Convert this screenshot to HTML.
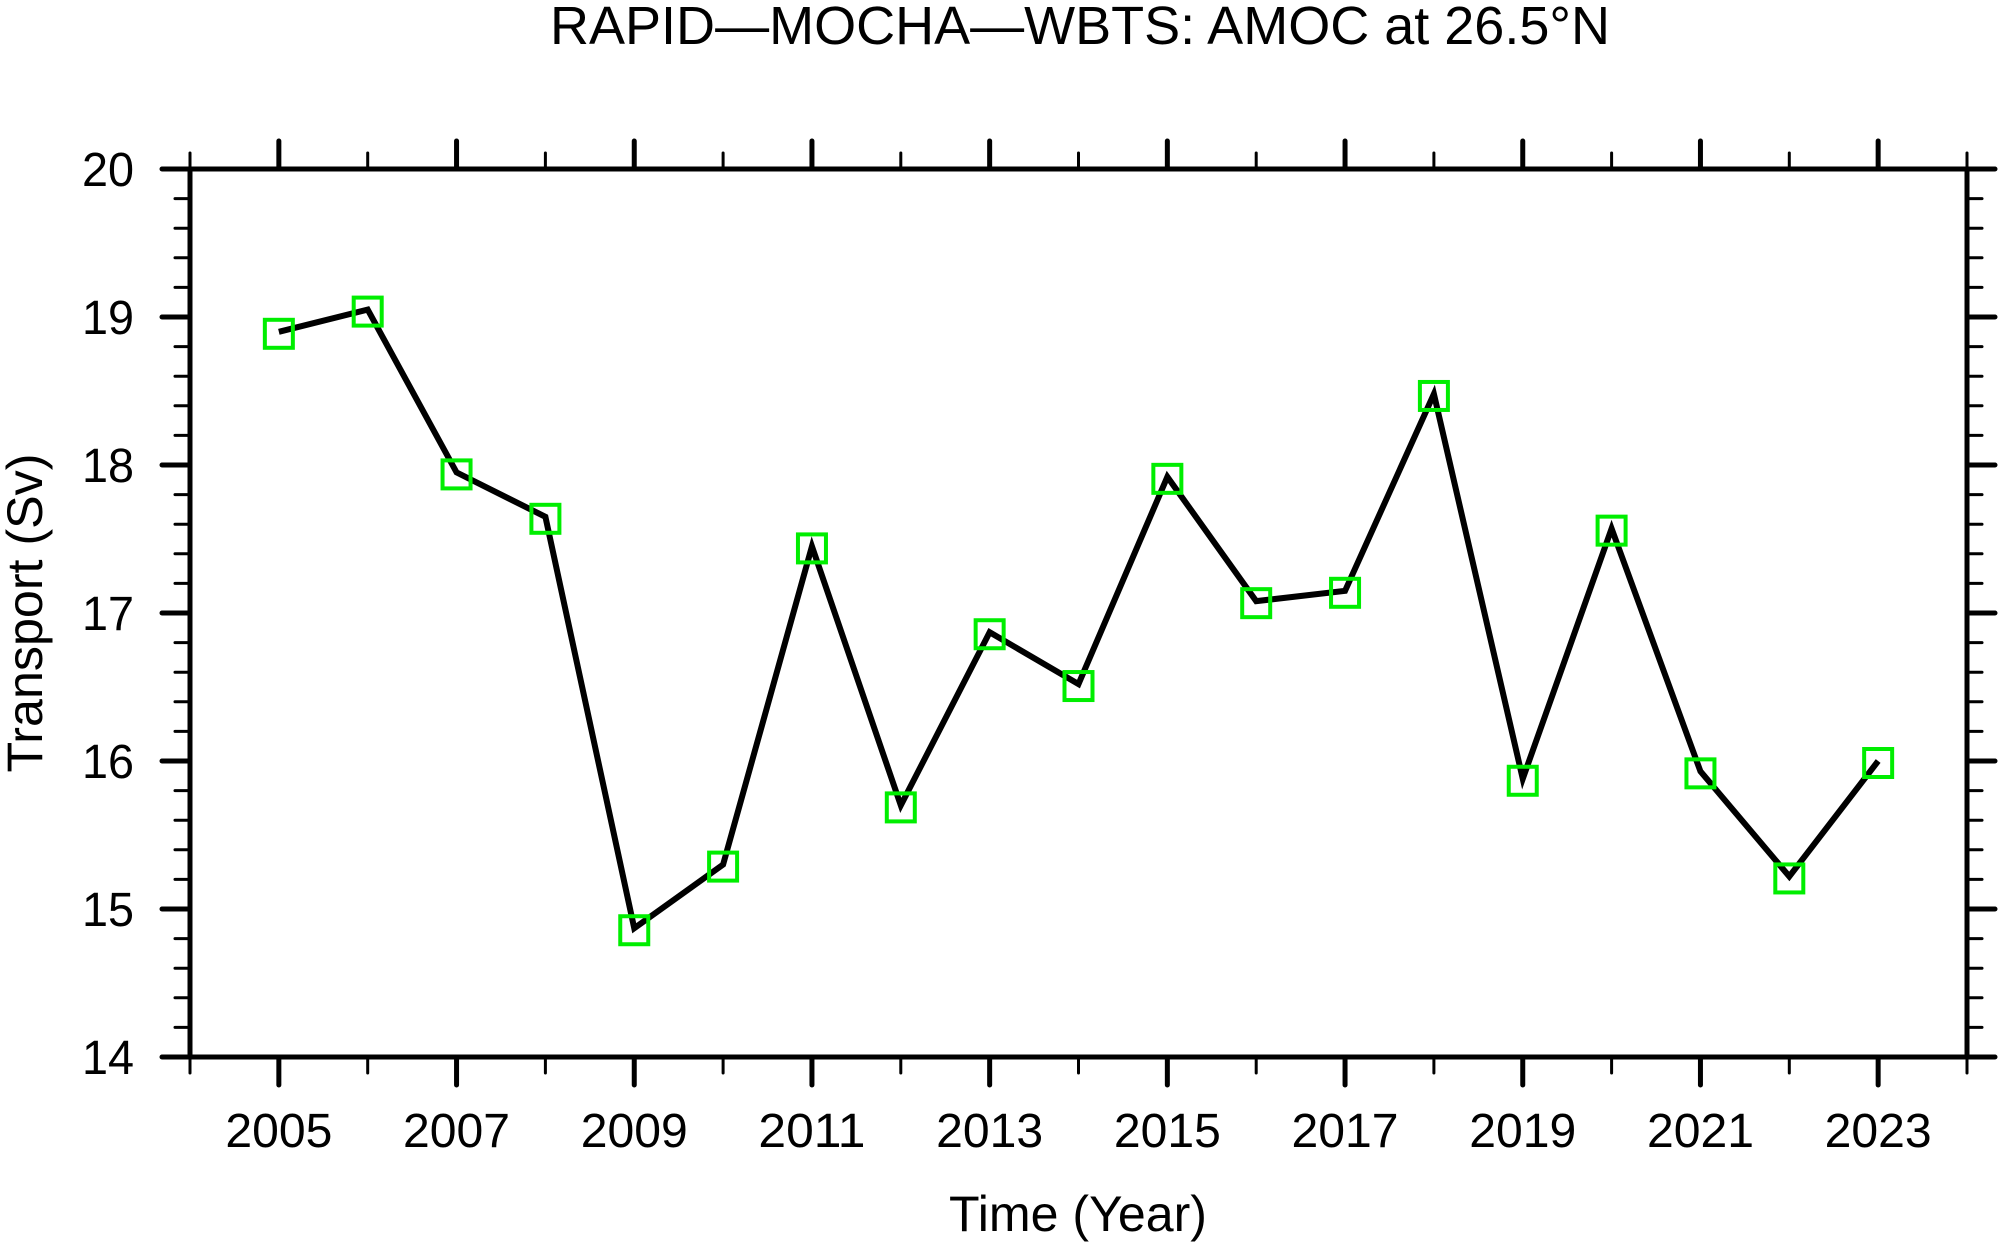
<!DOCTYPE html>
<html><head><meta charset="utf-8"><style>html,body{margin:0;padding:0;background:#fff}svg{display:block}</style></head>
<body>
<svg id="s" width="2000" height="1244" xmlns="http://www.w3.org/2000/svg" font-family="Liberation Sans, sans-serif"></svg>
<script>
const s=document.getElementById('s');
const L=190,R=1967,T=169,B=1057;
const X=y=>L+(y-2004)*(R-L)/20, Y=v=>B-(v-14)*(B-T)/6;
let h='';
h+=`<text x="1080" y="44" font-size="54" text-anchor="middle" textLength="1060" lengthAdjust="spacingAndGlyphs">RAPID\u2014MOCHA\u2014WBTS: AMOC at 26.5°N</text>`;
for(let yr=2004;yr<=2024;yr++){const x=X(yr);const maj=(yr%2==1);
h+=`<line x1="${x}" y1="${B}" x2="${x}" y2="${B+(maj?28:16)}" stroke="#000" stroke-width="${maj?5:3}" stroke-linecap="round"/>`;
h+=`<line x1="${x}" y1="${T}" x2="${x}" y2="${T-(maj?28:16)}" stroke="#000" stroke-width="${maj?5:3}" stroke-linecap="round"/>`;
if(maj&&yr>=2005&&yr<=2023)h+=`<text x="${x}" y="1147" font-size="48" text-anchor="middle" textLength="107" lengthAdjust="spacingAndGlyphs">${yr}</text>`;}
for(let i=0;i<=30;i++){const v=14+i*0.2;const y=Y(v);const maj=(i%5==0);
h+=`<line x1="${L}" y1="${y}" x2="${L-(maj?28:15)}" y2="${y}" stroke="#000" stroke-width="${maj?5:3}" stroke-linecap="round"/>`;
h+=`<line x1="${R}" y1="${y}" x2="${R+(maj?28:15)}" y2="${y}" stroke="#000" stroke-width="${maj?5:3}" stroke-linecap="round"/>`;
if(maj)h+=`<text x="134" y="${y+17}" font-size="48" text-anchor="end" textLength="52" lengthAdjust="spacingAndGlyphs">${Math.round(v)}</text>`;}
h+=`<rect x="${L}" y="${T}" width="${R-L}" height="${B-T}" fill="none" stroke="#000" stroke-width="5"/>`;
const d=[18.9,19.05,17.95,17.65,14.87,15.3,17.45,15.7,16.87,16.52,17.92,17.08,17.15,18.48,15.88,17.57,15.93,15.22,16.0];
h+=`<polyline fill="none" stroke="#000" stroke-width="6" stroke-linejoin="miter" points="${d.map((v,i)=>X(2005+i)+','+Y(v)).join(' ')}"/>`;
d.forEach((v,i)=>{h+=`<rect x="${X(2005+i)-14}" y="${Y(v)-12}" width="28" height="28" fill="none" stroke="#00ee00" stroke-width="4"/>`;});
h+=`<text x="1078" y="1231" font-size="50" text-anchor="middle" textLength="258" lengthAdjust="spacingAndGlyphs">Time (Year)</text>`;
h+=`<text transform="translate(42,613) rotate(-90)" font-size="50" text-anchor="middle" textLength="319" lengthAdjust="spacingAndGlyphs">Transport (Sv)</text>`;
s.innerHTML=h;
</script>
</body></html>
